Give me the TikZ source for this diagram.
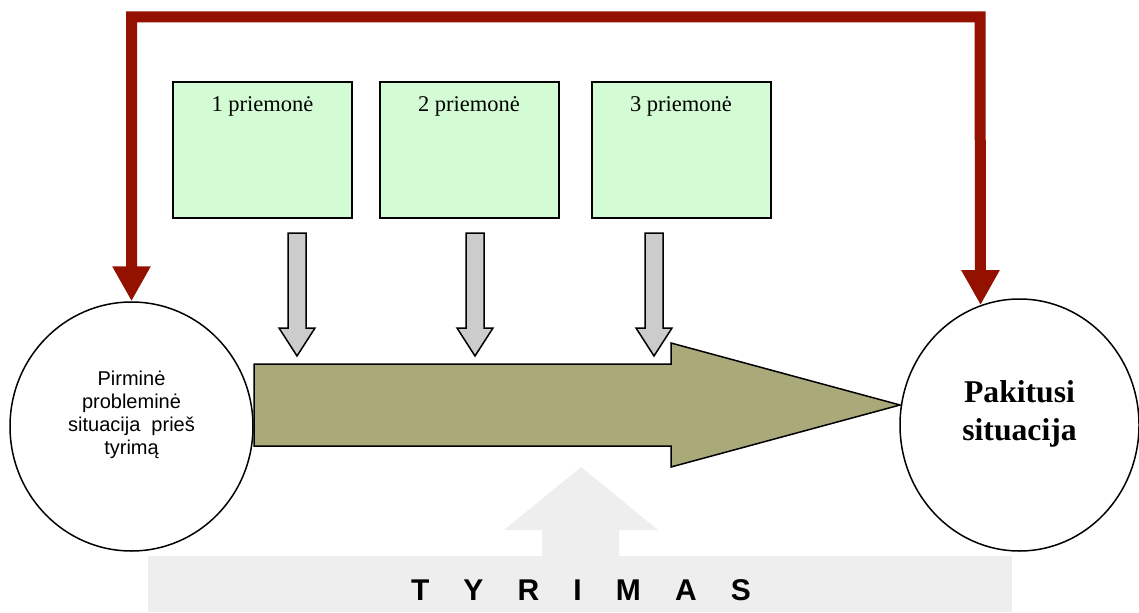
\documentclass[tikz,border=0pt]{standalone}
\usepackage{fontspec}
\setmainfont{Liberation Serif}
\setsansfont{Liberation Sans}
\usetikzlibrary{arrows.meta,shapes.geometric,positioning}
\definecolor{darkred}{RGB}{148,17,0}
\definecolor{boxgreen}{RGB}{212,252,212}
\definecolor{olivegreen}{RGB}{170,169,122}
\definecolor{arrgray}{RGB}{204,204,204}
\definecolor{palegray}{RGB}{238,238,238}

\begin{document}
\begin{tikzpicture}[x=0.6pt,y=-0.6pt,
	sit/.style={ellipse, draw, line width=0.9pt, inner sep=0pt},
	mbox/.style={draw, line width=1.2pt, fill=boxgreen, minimum width=107.4pt, minimum height=81.6pt, inner sep=0pt},
	mtxt/.style={font=\fontsize{13.5}{16}\selectfont, inner sep=0pt},
	redarrow/.style={draw=darkred, line width=6.6pt, {Triangle[length=21pt,width=21.6pt]}-{Triangle[length=21pt,width=21.6pt]}},
	garrow/.style={draw, line width=0.9pt, fill=arrgray, line join=miter}]
	\useasboundingbox (0,0) rectangle (1139,612);
	% situations
	\node[sit, minimum width=145.8pt, minimum height=149.4pt] (pirm) at (131.5,426.5) {};
	\node[font=\sffamily\fontsize{12}{13.8}\selectfont, align=center] (pirmt) at ([yshift=6.9pt]pirm.center) {Pirminė\\probleminė\\situacija\ \ prieš\\tyrimą};
	\node[sit, minimum width=143.4pt, minimum height=151.2pt] (chg) at (1019.5,425) {};
	\node[font=\bfseries\fontsize{19}{22.8}\selectfont, align=center] (chgt) at ([yshift=6.6pt]chg.center) {Pakitusi\\situacija};
	% main arrow
	\draw[garrow, fill=olivegreen] (254,364) -- (671,364) -- (671,343) -- (900,405) -- (671,467) -- (671,446) -- (254,446) -- cycle;
	% measures
	\foreach \x [count=\i] in {262.5,469,681} {
		\node[mbox] (m\i) at (\x,150) {};
		\node[mtxt, anchor=base] (t\i) at ([yshift=-18.6pt]m\i.north) {\i{} priemonė};
	}
	\foreach \x in {297,475,654} {
		\draw[garrow] (\x-9,233) -- (\x+9,233) -- (\x+9,328) -- (\x+18,328) -- (\x,356) -- (\x-18,328) -- (\x-9,328) -- cycle;
	}
	% feedback
	\coordinate (tl) at (pirm.north |- 0,17);
	\coordinate (tr) at (980,17);
	\draw[redarrow] (pirm.north) -- (tl) -- (tr) -- (chg.108);
	% research
	\fill[palegray] (148,556) rectangle (1012,612);
	\fill[palegray] (542,557) -- (542,530) -- (504,530) -- (581,467) -- (658,530) -- (619,530) -- (619,557) -- cycle;
	\node[font=\sffamily\bfseries\fontsize{18}{20}\selectfont, anchor=base] (tyr) at (581,600) {\spaceskip=20.5pt T Y R I M A S};
\end{tikzpicture}
\end{document}
